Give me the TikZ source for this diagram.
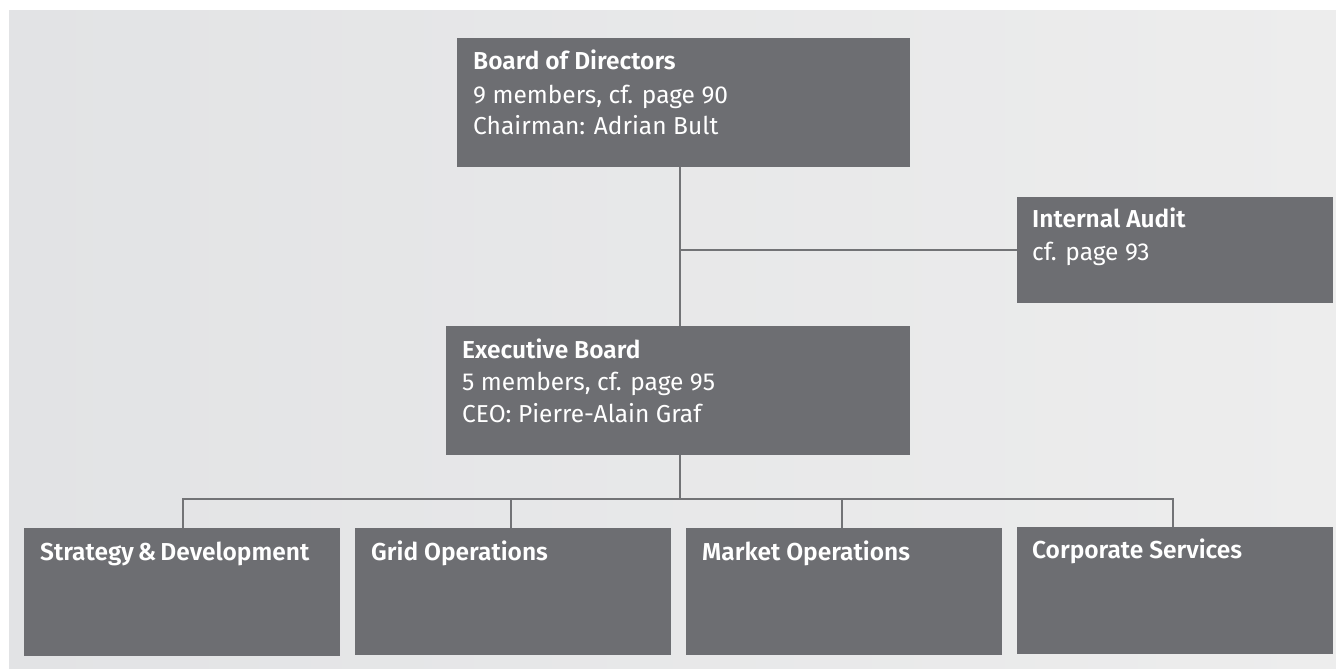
\documentclass[tikz,border=0pt]{standalone}
\usepackage{fontspec}
\setmainfont{Fira Sans}[BoldFont={Fira Sans SemiBold}]
\definecolor{boxc}{HTML}{6D6E72}
\definecolor{linec}{HTML}{727376}
\definecolor{bgl}{HTML}{E2E3E5}
\definecolor{bgr}{HTML}{EDEDED}
\tikzset{
  orgbox/.style={draw=none, fill=boxc, inner sep=0pt, anchor=north west},
  txt/.style={text=white, anchor=base west, inner sep=0pt, font=\fontsize{24.5}{28}\selectfont},
  conn/.style={draw=linec, line width=2.2pt}
}
\begin{document}
\begin{tikzpicture}[x=1pt,y=-1pt]
\useasboundingbox (0,0) rectangle (1336,669);
\shade[left color=bgl, right color=bgr] (9,11) rectangle (1336,669);
% boxes
\node[orgbox, minimum width=453pt, minimum height=129pt] (bod) at (457,38) {};
\node[orgbox, minimum width=316pt, minimum height=106pt] (ia) at (1017,197) {};
\node[orgbox, minimum width=464pt, minimum height=129pt] (eb) at (446,326) {};
\node[orgbox, minimum width=316pt, minimum height=128pt] (sd) at (24,528) {};
\node[orgbox, minimum width=316pt, minimum height=127pt] (go) at (355,528) {};
\node[orgbox, minimum width=316pt, minimum height=127pt] (mo) at (686,528) {};
\node[orgbox, minimum width=316pt, minimum height=127pt] (cs) at (1017,527) {};
% texts
\node[txt] (t1) at (473,70) {\bfseries Board of Directors};
\node[txt] (t2) at (473,103) {9 members, cf. page 90};
\node[txt] (t3) at (473,134) {Chairman: Adrian Bult};
\node[txt] (t4) at (1032,227) {\bfseries Internal Audit};
\node[txt] (t5) at (1032,260) {cf. page 93};
\node[txt] (t6) at (462,358) {\bfseries Executive Board};
\node[txt] (t7) at (462,390) {5 members, cf. page 95};
\node[txt] (t8) at (462,422) {CEO: Pierre-Alain Graf};
\node[txt] (t9) at (40,560) {\bfseries Strategy\,\&\,Development};
\node[txt] (t10) at (371,560) {\bfseries Grid Operations};
\node[txt] (t11) at (702,560) {\bfseries Market Operations};
\node[txt] (t12) at (1032,558) {\bfseries Corporate Services};
% connectors
\coordinate (j1) at (680,250);
\coordinate (j2) at (680,499);
\draw[conn] (bod.south -| j1) -- (eb.north -| j1);
\draw[conn] (j1) -- (j1 -| ia.west);
\draw[conn] (eb.south -| j2) -- (j2);
\draw[conn] (sd.north -| 183,0) -- (183,499) -- (1173,499) -- (cs.north -| 1173,0);
\draw[conn] (go.north -| 511,0) -- (511,499);
\draw[conn] (mo.north -| 842,0) -- (842,499);
\end{tikzpicture}
\end{document}
